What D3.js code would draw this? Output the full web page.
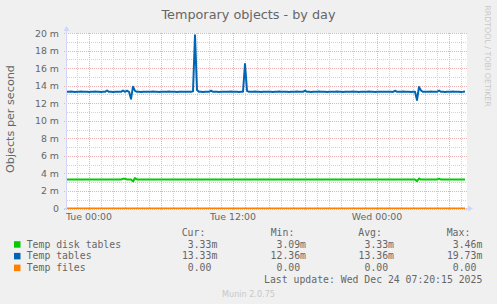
<!DOCTYPE html>
<html>
<head>
<meta charset="utf-8">
<title>Temporary objects - by day</title>
<script src="https://cdn.jsdelivr.net/npm/d3@7"></script>
<style>
    html, body { margin: 0; padding: 0; background: #f0f0f0; }
    svg { display: block; }
    text { font-family: "DejaVu Sans", sans-serif; fill: #666; }
    .mono { font-family: "DejaVu Sans Mono", monospace; white-space: pre; }
</style>
</head>
<body>
<div id="chart"></div>
<script>
// 数据：每 10 分钟一个采样点（单位：m = 千分之一 / 秒）
const startTime = new Date(2025, 11, 22, 22, 10);
const endTime = new Date(2025, 11, 24, 7, 30);
const stepMinutes = 10;

const seriesNames = ['Temp disk tables', 'Temp tables', 'Temp files'];
const seriesColors = ['#00cc00', '#0066b3', '#ff8000'];

const diskTables = [
    3.3,3.3,3.3,3.3,3.3,3.3,3.3,3.3,3.3,3.3,3.3,3.3,3.3,3.3,3.3,3.3,3.3,3.3,3.3,3.3,
    3.3,3.3,3.3,3.3,3.3,3.3,3.3,3.3,3.38,3.38,3.3,3.3,3.3,3.09,3.46,3.3,3.3,3.3,3.3,3.3,
    3.3,3.3,3.3,3.3,3.3,3.3,3.3,3.3,3.3,3.3,3.3,3.3,3.3,3.3,3.3,3.3,3.3,3.3,3.3,3.3,
    3.3,3.3,3.3,3.3,3.3,3.3,3.3,3.3,3.3,3.3,3.3,3.3,3.3,3.3,3.3,3.3,3.3,3.3,3.3,3.3,
    3.3,3.3,3.3,3.3,3.3,3.3,3.3,3.3,3.3,3.3,3.3,3.3,3.3,3.3,3.3,3.3,3.3,3.3,3.3,3.3,
    3.3,3.3,3.3,3.3,3.3,3.3,3.3,3.3,3.3,3.3,3.3,3.3,3.3,3.3,3.3,3.3,3.3,3.3,3.3,3.3,
    3.3,3.3,3.3,3.3,3.3,3.3,3.3,3.3,3.3,3.3,3.3,3.3,3.3,3.3,3.3,3.3,3.3,3.3,3.3,3.3,
    3.3,3.3,3.3,3.3,3.3,3.3,3.3,3.3,3.3,3.3,3.3,3.3,3.3,3.3,3.3,3.3,3.3,3.3,3.3,3.3,
    3.3,3.3,3.3,3.3,3.3,3.3,3.3,3.3,3.3,3.3,3.3,3.3,3.3,3.3,3.3,3.12,3.42,3.3,3.3,3.3,
    3.3,3.3,3.3,3.3,3.3,3.3,3.4,3.3,3.3,3.3,3.3,3.3,3.3,3.3,3.3,3.3,3.3,3.3,3.3,3.3
];

const tempTables = [
    13.3,13.3,13.32,13.3,13.28,13.3,13.3,13.32,13.3,13.3,13.3,13.28,13.3,13.3,13.32,13.3,13.3,13.28,13.3,13.3,
    13.45,13.3,13.3,13.28,13.3,13.3,13.3,13.3,13.45,13.3,13.42,13.3,12.5,13.88,13.4,13.3,13.3,13.28,13.3,13.3,
    13.3,13.3,13.3,13.32,13.3,13.3,13.28,13.3,13.3,13.3,13.3,13.32,13.3,13.3,13.3,13.28,13.3,13.3,13.3,13.3,
    13.3,13.3,13.3,13.35,19.73,13.5,13.3,13.3,13.28,13.3,13.3,13.3,13.42,13.3,13.3,13.3,13.28,13.3,13.3,13.3,
    13.3,13.3,13.32,13.3,13.3,13.3,13.28,13.3,13.3,16.47,13.4,13.3,13.3,13.3,13.32,13.3,13.3,13.28,13.3,13.3,
    13.3,13.3,13.3,13.28,13.3,13.3,13.32,13.3,13.3,13.3,13.3,13.28,13.3,13.3,13.3,13.32,13.3,13.3,13.3,13.42,
    13.3,13.3,13.28,13.3,13.3,13.3,13.32,13.3,13.3,13.3,13.28,13.3,13.3,13.3,13.3,13.32,13.3,13.3,13.28,13.3,
    13.3,13.3,13.3,13.32,13.3,13.3,13.28,13.3,13.3,13.3,13.3,13.32,13.3,13.3,13.28,13.3,13.3,13.3,13.3,13.3,
    13.3,13.3,13.3,13.28,13.42,13.3,13.3,13.3,13.32,13.3,13.3,13.3,13.28,13.3,13.3,12.36,13.85,13.45,13.3,13.3,
    13.3,13.3,13.32,13.3,13.3,13.3,13.45,13.3,13.3,13.28,13.3,13.3,13.3,13.32,13.3,13.3,13.3,13.28,13.3,13.33
];

const tempFiles = [
    0,0,0,0,0,0,0,0,0,0,0,0,0,0,0,0,0,0,0,0,
    0,0,0,0,0,0,0,0,0,0,0,0,0,0,0,0,0,0,0,0,
    0,0,0,0,0,0,0,0,0,0,0,0,0,0,0,0,0,0,0,0,
    0,0,0,0,0,0,0,0,0,0,0,0,0,0,0,0,0,0,0,0,
    0,0,0,0,0,0,0,0,0,0,0,0,0,0,0,0,0,0,0,0,
    0,0,0,0,0,0,0,0,0,0,0,0,0,0,0,0,0,0,0,0,
    0,0,0,0,0,0,0,0,0,0,0,0,0,0,0,0,0,0,0,0,
    0,0,0,0,0,0,0,0,0,0,0,0,0,0,0,0,0,0,0,0,
    0,0,0,0,0,0,0,0,0,0,0,0,0,0,0,0,0,0,0,0,
    0,0,0,0,0,0,0,0,0,0,0,0,0,0,0,0,0,0,0,0
];

// 图例统计值
const curValues = [' 3.33m', '13.33m', '  0.00 '];
const minValues = [' 3.09m', '12.36m', '  0.00 '];
const avgValues = [' 3.33m', '13.36m', '  0.00 '];
const maxValues = [' 3.46m', '19.73m', '  0.00 '];

const yTicks = [0, 2, 4, 6, 8, 10, 12, 14, 16, 18, 20];
const xLabelTicks = [new Date(2025, 11, 23, 0, 0), new Date(2025, 11, 23, 12, 0), new Date(2025, 11, 24, 0, 0)];
const xLabels = ['Tue 00:00', 'Tue 12:00', 'Wed 00:00'];

const titleText = 'Temporary objects - by day';
const yAxisLabel = 'Objects per second';
const lastUpdate = 'Last update: Wed Dec 24 07:20:15 2025';

// 画布
const width = 497, height = 304;
const plot = { left: 67, right: 467, top: 33, bottom: 208.5 };

const svg = d3.select('#chart').append('svg')
    .attr('width', width)
    .attr('height', height);

svg.append('rect')
    .attr('width', width).attr('height', height)
    .attr('fill', '#f0f0f0');

const x = d3.scaleTime().domain([startTime, endTime]).range([plot.left, plot.right]);
const y = d3.scaleLinear().domain([0, 20]).range([plot.bottom, plot.top]);

// 绘图区背景
svg.append('rect')
    .attr('x', plot.left).attr('y', plot.top)
    .attr('width', plot.right - plot.left)
    .attr('height', plot.bottom - plot.top)
    .attr('fill', '#fff');

// 裁剪区：零值线只露出上半部分
svg.append('clipPath').attr('id', 'plot-clip')
    .append('rect')
    .attr('x', plot.left).attr('y', 0)
    .attr('width', plot.right - plot.left + 2)
    .attr('height', plot.bottom + 0.5);

const minorColor = '#d2d2d2';
const majorColor = '#ebb0b0';
const grid = svg.append('g').attr('stroke-dasharray', '1,1').attr('stroke-width', 1);

// 次网格：每小时 / 每 1m
const hours = d3.timeHour.range(startTime, endTime).filter(d => d.getHours() % 6 !== 0);
grid.selectAll('line.vminor').data(hours).enter().append('line')
    .attr('x1', d => Math.round(x(d)) + 0.5).attr('x2', d => Math.round(x(d)) + 0.5)
    .attr('y1', plot.top).attr('y2', plot.bottom)
    .attr('stroke', minorColor);

const minorY = d3.range(1, 20, 2);
grid.selectAll('line.hminor').data(minorY).enter().append('line')
    .attr('x1', plot.left).attr('x2', plot.right)
    .attr('y1', d => Math.round(y(d)) + 0.5).attr('y2', d => Math.round(y(d)) + 0.5)
    .attr('stroke', minorColor);

// 主网格：每 6 小时 / 每 2m
const sixHours = d3.timeHour.every(6).range(startTime, endTime);
grid.selectAll('line.vmajor').data(sixHours).enter().append('line')
    .attr('x1', d => Math.round(x(d)) + 0.5).attr('x2', d => Math.round(x(d)) + 0.5)
    .attr('y1', plot.top).attr('y2', plot.bottom + 2)
    .attr('stroke', majorColor);

grid.selectAll('line.hmajor').data(yTicks).enter().append('line')
    .attr('x1', plot.left - 3).attr('x2', plot.right)
    .attr('y1', d => Math.round(y(d)) + 0.5).attr('y2', d => Math.round(y(d)) + 0.5)
    .attr('stroke', majorColor);

// 坐标轴
const axisColor = '#cfd6f8';
svg.append('line')
    .attr('x1', plot.left - 0.5).attr('x2', plot.left - 0.5)
    .attr('y1', plot.bottom).attr('y2', plot.top - 3)
    .attr('stroke', axisColor);
svg.append('line')
    .attr('x1', plot.left - 3).attr('x2', plot.right + 2)
    .attr('y1', plot.bottom).attr('y2', plot.bottom)
    .attr('stroke', axisColor);
svg.append('path')
    .attr('d', `M${plot.left - 3.5},${plot.top - 2} L${plot.left - 0.5},${plot.top - 7} L${plot.left + 2.5},${plot.top - 2} Z`)
    .attr('fill', axisColor);
svg.append('path')
    .attr('d', `M${plot.right + 1},${plot.bottom - 3} L${plot.right + 6},${plot.bottom} L${plot.right + 1},${plot.bottom + 3} Z`)
    .attr('fill', axisColor);

// 数据线
const seriesData = [diskTables, tempTables, tempFiles];
const line = d3.line()
    .x((d, i) => x(d3.timeMinute.offset(startTime, i * stepMinutes)))
    .y(d => y(d));

svg.append('g')
    .attr('clip-path', 'url(#plot-clip)')
    .selectAll('path')
    .data(seriesData).enter().append('path')
    .attr('d', d => line(d))
    .attr('fill', 'none')
    .attr('stroke', (d, i) => seriesColors[i])
    .attr('stroke-width', 2)
    .attr('stroke-linejoin', 'round');

// Y 轴刻度
svg.append('g').selectAll('text')
    .data(yTicks).enter().append('text')
    .attr('x', 59)
    .attr('y', d => y(d) + 3.5)
    .attr('text-anchor', 'end')
    .attr('font-size', '9.4px')
    .text(d => d === 0 ? '0' : `${d} m`);

// X 轴标签
svg.append('g').selectAll('text')
    .data(xLabelTicks).enter().append('text')
    .attr('x', d => x(d))
    .attr('y', 220)
    .attr('text-anchor', 'middle')
    .attr('font-size', '9.4px')
    .text((d, i) => xLabels[i]);

// 标题和轴名
svg.append('text')
    .attr('x', 248.5).attr('y', 18.5)
    .attr('text-anchor', 'middle')
    .attr('font-size', '12.8px')
    .text(titleText);

svg.append('text')
    .attr('transform', 'translate(13.5,119) rotate(-90)')
    .attr('text-anchor', 'middle')
    .attr('font-size', '11.2px')
    .text(yAxisLabel);

svg.append('text')
    .attr('transform', 'translate(485,56) rotate(90)')
    .attr('text-anchor', 'middle')
    .attr('font-size', '7.9px')
    .style('fill', '#c8c8c8')
    .text('RRDTOOL / TOBI OETIKER');

// 图例
const legendFont = '9.8px';
const headers = [['Cur:', 181.7], ['Min:', 270.7], ['Avg:', 358.3], ['Max:', 446.7]];
svg.append('g').selectAll('text')
    .data(headers).enter().append('text')
    .attr('class', 'mono')
    .attr('x', d => d[1]).attr('y', 236)
    .attr('font-size', legendFont)
    .text(d => d[0]);

const rowY = [247.7, 259.4, 271.1];
const columns = [[curValues, 217.3], [minValues, 306], [avgValues, 394], [maxValues, 482.3]];
const legend = svg.append('g');

seriesNames.forEach((name, i) => {
    legend.append('rect')
        .attr('x', 14).attr('y', rowY[i] - 6.5)
        .attr('width', 6.5).attr('height', 6.5)
        .attr('fill', seriesColors[i]);
    legend.append('text')
        .attr('class', 'mono')
        .attr('x', 26.7).attr('y', rowY[i])
        .attr('font-size', legendFont)
        .text(name);
    columns.forEach(col => {
        legend.append('text')
            .attr('class', 'mono')
            .attr('x', col[1]).attr('y', rowY[i])
            .attr('text-anchor', 'end')
            .attr('font-size', legendFont)
            .text(col[0][i]);
    });
});

svg.append('text')
    .attr('class', 'mono')
    .attr('x', 482.3).attr('y', 282.8)
    .attr('text-anchor', 'end')
    .attr('font-size', legendFont)
    .text(lastUpdate);

svg.append('text')
    .attr('x', 248.5).attr('y', 296.5)
    .attr('text-anchor', 'middle')
    .attr('font-size', '8.1px')
    .style('fill', '#c8c8c8')
    .text('Munin 2.0.75');
</script>
</body>
</html>
